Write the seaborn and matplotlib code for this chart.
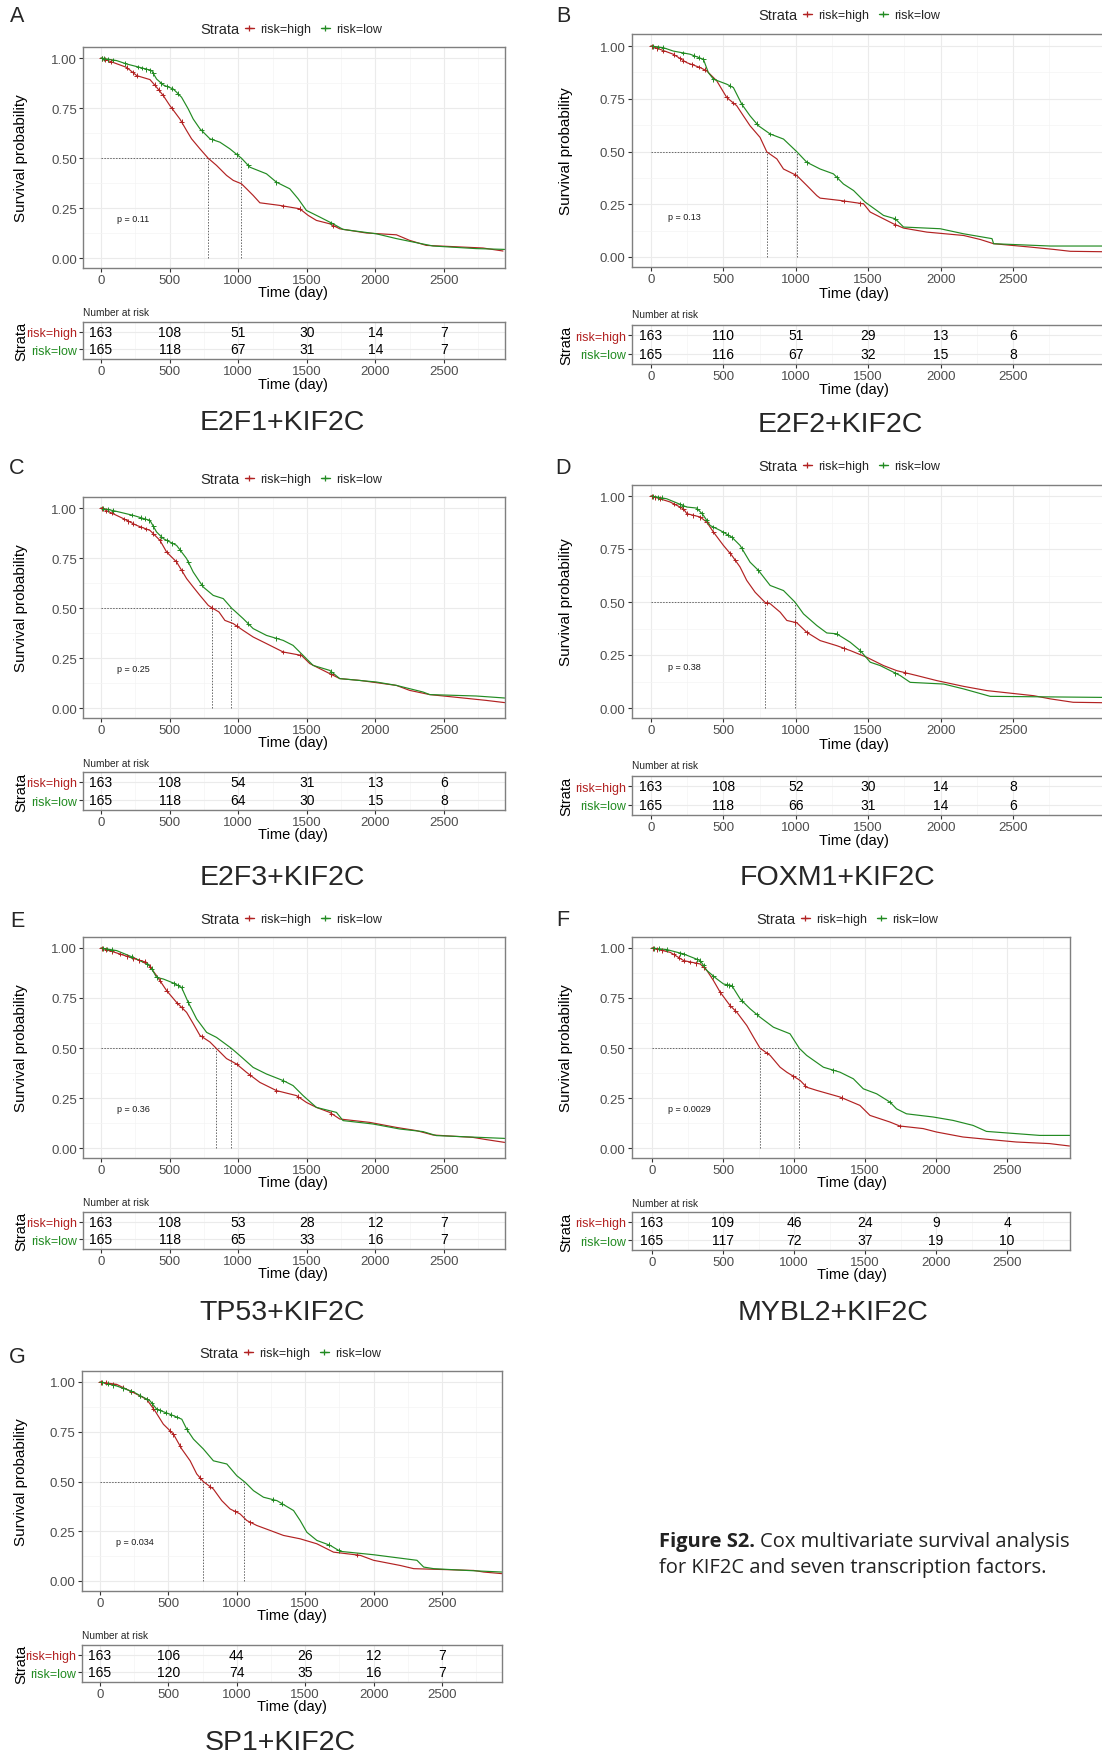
import numpy as np
import pandas as pd
import matplotlib
matplotlib.use("Agg")
import matplotlib.pyplot as plt
import seaborn as sns
from matplotlib.lines import Line2D

sns.set_theme(style="white")
plt.rcParams["font.family"] = ["Liberation Sans", "DejaVu Sans"]

RED = "#B22222"
GREEN = "#228B22"

# ---------------- data ----------------
panel_keys = ["A", "B", "C", "D", "E", "F", "G"]
panel_titles = ["E2F1+KIF2C", "E2F2+KIF2C", "E2F3+KIF2C", "FOXM1+KIF2C",
                "TP53+KIF2C", "MYBL2+KIF2C", "SP1+KIF2C"]
p_labels = ["p = 0.11", "p = 0.13", "p = 0.25", "p = 0.38",
            "p = 0.36", "p = 0.0029", "p = 0.034"]
strata_labels = ["risk=high", "risk=low"]
risk_times = [0, 500, 1000, 1500, 2000, 2500]
x_tick_values = [0, 500, 1000, 1500, 2000, 2500]
y_tick_values = [0.0, 0.25, 0.5, 0.75, 1.0]
y_tick_labels = ["0.00", "0.25", "0.50", "0.75", "1.00"]

A_risk_high = [163, 108, 51, 30, 14, 7]
A_risk_low = [165, 118, 67, 31, 14, 7]
B_risk_high = [163, 110, 51, 29, 13, 6]
B_risk_low = [165, 116, 67, 32, 15, 8]
C_risk_high = [163, 108, 54, 31, 13, 6]
C_risk_low = [165, 118, 64, 30, 15, 8]
D_risk_high = [163, 108, 52, 30, 14, 8]
D_risk_low = [165, 118, 66, 31, 14, 6]
E_risk_high = [163, 108, 53, 28, 12, 7]
E_risk_low = [165, 118, 65, 33, 16, 7]
F_risk_high = [163, 109, 46, 24, 9, 4]
F_risk_low = [165, 117, 72, 37, 19, 10]
G_risk_high = [163, 106, 44, 26, 12, 7]
G_risk_low = [165, 120, 74, 35, 16, 7]

A_high_t = [0, 187, 260, 357, 405, 454, 502, 575, 624, 660, 721, 781, 842, 915, 964, 1024, 1061, 1109, 1158, 1303, 1449, 1510, 1570, 1667, 1740, 1934, 2153, 2250, 2371, 2784, 2930]
A_high_s = [1.0, 0.953, 0.912, 0.892, 0.854, 0.812, 0.762, 0.695, 0.637, 0.596, 0.546, 0.499, 0.463, 0.413, 0.388, 0.371, 0.346, 0.313, 0.276, 0.263, 0.246, 0.213, 0.188, 0.171, 0.146, 0.125, 0.116, 0.088, 0.063, 0.050, 0.035]
A_low_t = [0, 114, 187, 284, 369, 405, 454, 527, 587, 636, 672, 721, 794, 867, 939, 1000, 1024, 1085, 1206, 1279, 1376, 1437, 1497, 1594, 1691, 1764, 2007, 2153, 2274, 2420, 2735, 2942]
A_low_s = [1.0, 0.987, 0.970, 0.953, 0.937, 0.895, 0.865, 0.845, 0.804, 0.745, 0.695, 0.646, 0.596, 0.579, 0.546, 0.512, 0.499, 0.454, 0.421, 0.379, 0.346, 0.296, 0.238, 0.205, 0.171, 0.143, 0.121, 0.097, 0.080, 0.060, 0.047, 0.043]

B_high_t = [0, 154, 247, 339, 385, 454, 523, 592, 638, 684, 753, 800, 869, 915, 1007, 1076, 1145, 1168, 1306, 1468, 1514, 1583, 1675, 1744, 1905, 2159, 2274, 2366, 2620, 2781, 2896, 3120]
B_high_s = [1.0, 0.961, 0.921, 0.898, 0.882, 0.835, 0.756, 0.717, 0.669, 0.622, 0.567, 0.498, 0.465, 0.417, 0.386, 0.339, 0.291, 0.279, 0.268, 0.252, 0.213, 0.189, 0.157, 0.137, 0.118, 0.102, 0.083, 0.063, 0.047, 0.036, 0.027, 0.025]
B_low_t = [0, 85, 154, 270, 362, 396, 431, 523, 569, 627, 684, 742, 823, 915, 1007, 1076, 1168, 1260, 1329, 1399, 1479, 1560, 1606, 1687, 1744, 1997, 2159, 2355, 2366, 2758, 3120]
B_low_s = [1.0, 0.992, 0.976, 0.961, 0.937, 0.874, 0.843, 0.819, 0.803, 0.724, 0.669, 0.622, 0.583, 0.559, 0.499, 0.449, 0.417, 0.394, 0.346, 0.315, 0.260, 0.220, 0.197, 0.181, 0.142, 0.134, 0.110, 0.087, 0.063, 0.052, 0.052]

C_high_t = [0, 163, 260, 357, 430, 478, 551, 624, 672, 721, 782, 818, 860, 903, 964, 1036, 1109, 1206, 1328, 1461, 1522, 1594, 1740, 1886, 2153, 2250, 2396, 2639, 2808, 2942]
C_high_s = [1.0, 0.947, 0.913, 0.888, 0.838, 0.780, 0.730, 0.647, 0.605, 0.563, 0.513, 0.497, 0.480, 0.438, 0.422, 0.388, 0.355, 0.322, 0.280, 0.263, 0.222, 0.197, 0.147, 0.138, 0.113, 0.088, 0.067, 0.050, 0.038, 0.027]
C_low_t = [0, 114, 235, 357, 405, 454, 551, 624, 672, 745, 818, 891, 951, 1036, 1109, 1206, 1328, 1400, 1473, 1546, 1667, 1740, 2007, 2153, 2347, 2396, 2735, 2942]
C_low_s = [1.0, 0.983, 0.963, 0.938, 0.880, 0.847, 0.813, 0.747, 0.680, 0.605, 0.563, 0.547, 0.500, 0.447, 0.397, 0.363, 0.338, 0.313, 0.263, 0.213, 0.188, 0.147, 0.130, 0.113, 0.080, 0.067, 0.060, 0.050]

D_high_t = [0, 131, 224, 247, 339, 385, 431, 500, 558, 615, 661, 719, 788, 823, 892, 938, 1007, 1076, 1168, 1283, 1376, 1491, 1606, 1698, 1836, 1975, 2159, 2320, 2643, 2758, 2915, 3120]
D_high_s = [1.0, 0.972, 0.940, 0.917, 0.901, 0.877, 0.830, 0.767, 0.720, 0.665, 0.602, 0.546, 0.498, 0.492, 0.452, 0.413, 0.402, 0.357, 0.318, 0.294, 0.271, 0.239, 0.200, 0.176, 0.153, 0.129, 0.102, 0.082, 0.058, 0.043, 0.027, 0.025]
D_low_t = [0, 108, 247, 316, 362, 408, 477, 558, 615, 684, 742, 823, 915, 995, 1053, 1145, 1214, 1283, 1376, 1445, 1514, 1583, 1721, 1790, 2022, 2159, 2343, 3120]
D_low_s = [1.0, 0.987, 0.948, 0.943, 0.909, 0.861, 0.838, 0.806, 0.767, 0.688, 0.649, 0.578, 0.554, 0.499, 0.444, 0.389, 0.354, 0.350, 0.310, 0.271, 0.216, 0.200, 0.153, 0.121, 0.113, 0.090, 0.055, 0.050]

E_high_t = [0, 138, 235, 333, 405, 478, 551, 624, 672, 721, 794, 842, 915, 988, 1061, 1158, 1279, 1425, 1497, 1570, 1667, 1740, 1959, 2153, 2299, 2420, 2711, 2808, 2942]
E_high_s = [1.0, 0.970, 0.948, 0.928, 0.862, 0.787, 0.728, 0.678, 0.622, 0.563, 0.530, 0.497, 0.447, 0.420, 0.378, 0.328, 0.287, 0.262, 0.228, 0.203, 0.178, 0.145, 0.128, 0.103, 0.087, 0.065, 0.053, 0.042, 0.028]
E_low_t = [0, 114, 235, 357, 405, 454, 527, 587, 636, 697, 770, 842, 951, 1012, 1109, 1206, 1328, 1400, 1473, 1570, 1716, 1764, 1983, 2177, 2347, 2444, 2942]
E_low_s = [1.0, 0.987, 0.953, 0.912, 0.853, 0.845, 0.825, 0.803, 0.728, 0.645, 0.578, 0.553, 0.498, 0.462, 0.403, 0.370, 0.337, 0.312, 0.262, 0.203, 0.178, 0.137, 0.120, 0.095, 0.082, 0.062, 0.048]

F_high_t = [0, 129, 223, 340, 387, 433, 480, 550, 597, 668, 715, 761, 832, 902, 949, 1043, 1089, 1160, 1324, 1464, 1535, 1675, 1745, 1910, 2003, 2190, 2307, 2565, 2800, 2940]
F_high_s = [1.0, 0.978, 0.937, 0.920, 0.887, 0.837, 0.779, 0.712, 0.679, 0.612, 0.554, 0.499, 0.463, 0.404, 0.379, 0.338, 0.304, 0.288, 0.255, 0.213, 0.163, 0.130, 0.110, 0.097, 0.080, 0.055, 0.047, 0.030, 0.022, 0.010]
F_low_t = [0, 105, 223, 340, 387, 457, 504, 562, 621, 691, 761, 855, 972, 1038, 1089, 1207, 1324, 1418, 1488, 1582, 1675, 1722, 1792, 1980, 2120, 2261, 2355, 2730, 2945]
F_low_s = [1.0, 0.992, 0.970, 0.937, 0.887, 0.845, 0.820, 0.812, 0.745, 0.696, 0.654, 0.604, 0.571, 0.498, 0.463, 0.404, 0.379, 0.346, 0.296, 0.271, 0.230, 0.196, 0.171, 0.155, 0.138, 0.113, 0.083, 0.063, 0.063]

G_high_t = [0, 122, 244, 341, 402, 463, 537, 598, 659, 707, 756, 829, 890, 951, 1024, 1073, 1146, 1244, 1341, 1463, 1585, 1707, 1902, 2000, 2195, 2293, 2732, 2805, 2939]
G_high_s = [1.0, 0.988, 0.947, 0.913, 0.855, 0.788, 0.738, 0.663, 0.604, 0.538, 0.499, 0.462, 0.404, 0.362, 0.337, 0.304, 0.279, 0.254, 0.229, 0.212, 0.187, 0.145, 0.129, 0.104, 0.078, 0.062, 0.053, 0.045, 0.037]
G_low_t = [0, 122, 244, 366, 415, 512, 598, 634, 683, 756, 829, 927, 1000, 1061, 1122, 1195, 1293, 1415, 1463, 1512, 1585, 1683, 1756, 2000, 2317, 2366, 2439, 2683, 2939]
G_low_s = [1.0, 0.980, 0.950, 0.905, 0.863, 0.838, 0.813, 0.763, 0.713, 0.663, 0.604, 0.588, 0.529, 0.496, 0.454, 0.421, 0.404, 0.354, 0.304, 0.245, 0.204, 0.179, 0.149, 0.132, 0.104, 0.070, 0.062, 0.053, 0.045]

A_cens_high = [5, 30, 70, 190, 230, 260, 390, 420, 450, 515, 587, 1328, 1449, 1692]
A_cens_low = [10, 25, 50, 90, 175, 270, 300, 330, 360, 380, 440, 480, 520, 560, 733, 806, 988, 1073, 1279, 1680]
B_cens_high = [5, 40, 85, 160, 200, 224, 280, 330, 370, 523, 569, 995, 1330, 1445, 1687]
B_cens_low = [16, 50, 85, 224, 300, 330, 362, 431, 546, 627, 730, 823, 1076, 1283, 1687]
C_cens_high = [5, 40, 78, 170, 200, 235, 290, 330, 380, 430, 478, 545, 587, 806, 988, 1328, 1449, 1680]
C_cens_low = [17, 50, 90, 223, 290, 320, 350, 381, 440, 480, 520, 575, 636, 733, 1073, 1279, 1680]
D_cens_high = [5, 30, 62, 160, 200, 224, 250, 290, 340, 385, 431, 546, 581, 800, 995, 1076, 1330, 1756]
D_cens_low = [16, 45, 74, 200, 224, 320, 350, 385, 431, 500, 530, 558, 627, 742, 1283, 1445, 1687]
E_cens_high = [5, 40, 78, 140, 190, 235, 280, 320, 357, 430, 478, 555, 587, 733, 988, 1085, 1279, 1437, 1680]
E_cens_low = [17, 45, 78, 223, 335, 370, 405, 530, 560, 587, 636, 1328]
F_cens_high = [5, 35, 70, 152, 190, 223, 270, 310, 363, 480, 550, 586, 808, 996, 1078, 1336, 1745]
F_cens_low = [12, 50, 105, 199, 223, 316, 340, 363, 433, 527, 545, 562, 633, 738, 1277, 1675]
G_cens_high = [5, 45, 98, 171, 230, 293, 341, 390, 512, 537, 585, 732, 805, 988, 1098, 1878]
G_cens_low = [12, 55, 98, 171, 230, 293, 341, 380, 415, 439, 480, 520, 561, 634, 1268, 1329, 1671, 1744]

panel_data = {
    "A": (A_high_t, A_high_s, A_low_t, A_low_s, A_cens_high, A_cens_low, A_risk_high, A_risk_low),
    "B": (B_high_t, B_high_s, B_low_t, B_low_s, B_cens_high, B_cens_low, B_risk_high, B_risk_low),
    "C": (C_high_t, C_high_s, C_low_t, C_low_s, C_cens_high, C_cens_low, C_risk_high, C_risk_low),
    "D": (D_high_t, D_high_s, D_low_t, D_low_s, D_cens_high, D_cens_low, D_risk_high, D_risk_low),
    "E": (E_high_t, E_high_s, E_low_t, E_low_s, E_cens_high, E_cens_low, E_risk_high, E_risk_low),
    "F": (F_high_t, F_high_s, F_low_t, F_low_s, F_cens_high, F_cens_low, F_risk_high, F_risk_low),
    "G": (G_high_t, G_high_s, G_low_t, G_low_s, G_cens_high, G_cens_low, G_risk_high, G_risk_low),
}

# ---------------- layout (pixels) ----------------
layout = {
    "A": dict(box=(83, 48, 505, 269), x0=101, sx=0.1372, y1=59, y0=259, leg_y=30, strata_r=239,
              letter=(17, 17), p=(117, 220), nar=(83, 313), tbox=(83, 323, 505, 360),
              xl=(293, 293), txl=385, ylx=21, title=(282, 423)),
    "B": dict(box=(632, 35, 1110, 268), x0=651, sx=0.1448, y1=47, y0=258, leg_y=16, strata_r=797,
              letter=(563, 17), p=(668, 217), nar=(632, 315), tbox=(632, 326, 1110, 365),
              xl=(854, 294), txl=390, ylx=566, title=(840, 425)),
    "C": dict(box=(83, 498, 505, 719), x0=101, sx=0.1372, y1=509, y0=709, leg_y=480, strata_r=239,
              letter=(17, 469), p=(117, 670), nar=(83, 764), tbox=(83, 773, 505, 811),
              xl=(293, 743), txl=835, ylx=21, title=(282, 878)),
    "D": dict(box=(632, 486, 1110, 719), x0=651, sx=0.1448, y1=497, y0=709, leg_y=467, strata_r=797,
              letter=(563, 469), p=(668, 667), nar=(632, 766), tbox=(632, 777, 1110, 816),
              xl=(854, 745), txl=841, ylx=566, title=(837, 878)),
    "E": dict(box=(83, 938, 505, 1159), x0=101, sx=0.1372, y1=949, y0=1149, leg_y=920, strata_r=239,
              letter=(17, 922), p=(117, 1109), nar=(83, 1203), tbox=(83, 1213, 505, 1250),
              xl=(293, 1183), txl=1274, ylx=21, title=(282, 1313)),
    "F": dict(box=(632, 938, 1070, 1159), x0=652, sx=0.142, y1=949, y0=1149, leg_y=920, strata_r=795,
              letter=(563, 920), p=(668, 1110), nar=(632, 1204), tbox=(632, 1213, 1070, 1251),
              xl=(852, 1183), txl=1275, ylx=566, title=(833, 1313)),
    "G": dict(box=(82, 1372, 502, 1592), x0=100, sx=0.1368, y1=1383, y0=1582, leg_y=1354, strata_r=238,
              letter=(17, 1358), p=(116, 1543), nar=(82, 1636), tbox=(82, 1646, 502, 1683),
              xl=(292, 1616), txl=1707, ylx=21, title=(280, 1743)),
}

W, H = 1102, 1758
fig = plt.figure(figsize=(W / 100, H / 100), dpi=100)
fig.patch.set_facecolor("white")

TICK_COLOR = "#4D4D4D"
SPINE_COLOR = "#7F7F7F"


def add_ax(l, t, r, b):
    return fig.add_axes([l / W, 1 - b / H, (r - l) / W, (b - t) / H])


def fpos(x, y):
    return x / W, 1 - y / H


def style_axes(ax):
    ax.set_facecolor("white")
    for s in ax.spines.values():
        s.set_color(SPINE_COLOR)
        s.set_linewidth(1.0)
    ax.tick_params(axis="both", which="major", bottom=True, left=True, length=3, width=0.8,
                   color="#333333", labelsize=9.5, labelcolor=TICK_COLOR, pad=1.5)
    ax.tick_params(axis="both", which="minor", length=0)
    ax.grid(which="major", color="#EBEBEB", linewidth=0.8)
    ax.grid(which="minor", color="#F4F4F4", linewidth=0.5)
    ax.set_axisbelow(True)


def median_time(t, s):
    t = np.asarray(t, float)
    s = np.asarray(s, float)
    idx = np.argmax(s <= 0.5)
    if idx == 0:
        return t[0]
    return t[idx - 1] + (s[idx - 1] - 0.5) * (t[idx] - t[idx - 1]) / (s[idx - 1] - s[idx])


pal = {"risk=high": RED, "risk=low": GREEN}

for key, title, ptxt in zip(panel_keys, panel_titles, p_labels):
    ht, hs, lt, ls, ch, cl, rh, rl = panel_data[key]
    L = layout[key]
    l, t, r, b = L["box"]
    ax = add_ax(l, t, r, b)
    style_axes(ax)
    xlim = ((l - L["x0"]) / L["sx"], (r - L["x0"]) / L["sx"])
    span = L["y0"] - L["y1"]
    ylim = ((L["y0"] - b) / span, (L["y0"] - t) / span)
    minor_x = [v for v in np.arange(250, 3300, 500) if xlim[0] < v < xlim[1]]

    curve = pd.concat([
        pd.DataFrame({"time": ht, "surv": hs, "strata": "risk=high"}),
        pd.DataFrame({"time": lt, "surv": ls, "strata": "risk=low"}),
    ], ignore_index=True)
    sns.lineplot(data=curve, x="time", y="surv", hue="strata", hue_order=strata_labels,
                 palette=pal, estimator=None, sort=False, linewidth=0.85, legend=False, ax=ax)

    cens = pd.concat([
        pd.DataFrame({"time": ch, "surv": np.interp(ch, ht, hs), "strata": "risk=high"}),
        pd.DataFrame({"time": cl, "surv": np.interp(cl, lt, ls), "strata": "risk=low"}),
    ], ignore_index=True)
    sns.scatterplot(data=cens, x="time", y="surv", hue="strata", hue_order=strata_labels,
                    palette=pal, marker="+", s=12, linewidth=0.7, legend=False, ax=ax, zorder=3)

    mh = median_time(ht, hs)
    ml = median_time(lt, ls)
    ax.plot([0, max(mh, ml)], [0.5, 0.5], ls=(0, (1.5, 1.5)), color="#666666", lw=0.7, zorder=1.5)
    for m in (mh, ml):
        ax.plot([m, m], [0, 0.5], ls=(0, (1.5, 1.5)), color="#666666", lw=0.7, zorder=1.5)

    ax.set_xticks(x_tick_values)
    ax.set_xticklabels([str(v) for v in x_tick_values])
    ax.set_xticks(minor_x, minor=True)
    ax.set_yticks(y_tick_values)
    ax.set_yticklabels(y_tick_labels)
    ax.set_yticks([0.125, 0.375, 0.625, 0.875], minor=True)
    ax.set_xlim(xlim)
    ax.set_ylim(ylim)

    ax.set_xlabel("Time (day)", fontsize=10.5, color="black")
    ax.xaxis.label.set_va("center")
    ax.xaxis.set_label_coords((L["xl"][0] - l) / (r - l), -(L["xl"][1] - b) / (b - t))
    ax.set_ylabel("Survival probability", fontsize=11, color="black")
    ax.yaxis.label.set_va("center")
    ax.yaxis.set_label_coords((L["ylx"] - l) / (r - l), 0.5)

    # p-value
    fig.text(*fpos(*L["p"]), ptxt, fontsize=6.5, color="#1a1a1a", ha="left", va="center")

    # legend
    fig.text(*fpos(L["strata_r"], L["leg_y"]), "Strata", fontsize=10.5, ha="right", va="center")
    handles = [Line2D([0], [0], color=RED, lw=1.0, marker="+", markersize=5, markeredgewidth=0.9),
               Line2D([0], [0], color=GREEN, lw=1.0, marker="+", markersize=5, markeredgewidth=0.9)]
    fig.legend(handles, strata_labels, loc="center left",
               bbox_to_anchor=fpos(L["strata_r"] + 6, L["leg_y"]), ncol=2, frameon=False,
               fontsize=9, handlelength=0.7, handletextpad=0.5, columnspacing=0.8,
               borderpad=0, borderaxespad=0)

    # panel letter and title
    fig.text(*fpos(*L["letter"]), key, fontsize=15.5, ha="center", va="center")
    fig.text(*fpos(*L["title"]), title, fontsize=20.5, ha="center", va="center")

    # risk table
    fig.text(*fpos(*L["nar"]), "Number at risk", fontsize=7.3, ha="left", va="center")
    tl, tt, tr, tb = L["tbox"]
    tax = add_ax(tl, tt, tr, tb)
    style_axes(tax)
    for tm, nh, nl in zip(risk_times, rh, rl):
        tax.text(tm, 1, str(nh), ha="center", va="center", fontsize=10, color="black")
        tax.text(tm, 0, str(nl), ha="center", va="center", fontsize=10, color="black")
    tax.set_xticks(x_tick_values)
    tax.set_xticklabels([str(v) for v in x_tick_values])
    tax.set_xticks(minor_x, minor=True)
    tax.set_yticks([1, 0])
    tax.set_yticklabels(strata_labels)
    tax.set_xlim(xlim)
    tax.set_ylim(-0.55, 1.55)
    tax.tick_params(axis="y", labelsize=9)
    for lab, c in zip(tax.get_yticklabels(), [RED, GREEN]):
        lab.set_color(c)
    tax.set_xlabel("Time (day)", fontsize=10.5, color="black")
    tax.xaxis.label.set_va("center")
    tax.xaxis.set_label_coords((L["xl"][0] - tl) / (tr - tl), -(L["txl"] - tb) / (tb - tt))
    tax.set_ylabel("Strata", fontsize=10.5, color="black")
    tax.yaxis.label.set_va("center")
    tax.yaxis.set_label_coords((L["ylx"] - tl) / (tr - tl), 0.5)

# caption
cap_font = ["Open Sans", "DejaVu Sans"]
t1 = fig.text(*fpos(659, 1542), "Figure S2.", fontsize=14.5, fontweight="bold",
              family=cap_font, ha="left", va="center", color="#222222")
renderer = fig.canvas.get_renderer()
bb = t1.get_window_extent(renderer)
fig.text((bb.x1 + 5) / W, 1 - 1542 / H, "Cox multivariate survival analysis", fontsize=14.5,
         family=cap_font, ha="left", va="center", color="#222222")
fig.text(*fpos(659, 1568), "for KIF2C and seven transcription factors.", fontsize=14.5,
         family=cap_font, ha="left", va="center", color="#222222")

fig.savefig("out.png", dpi=100, facecolor="white")
